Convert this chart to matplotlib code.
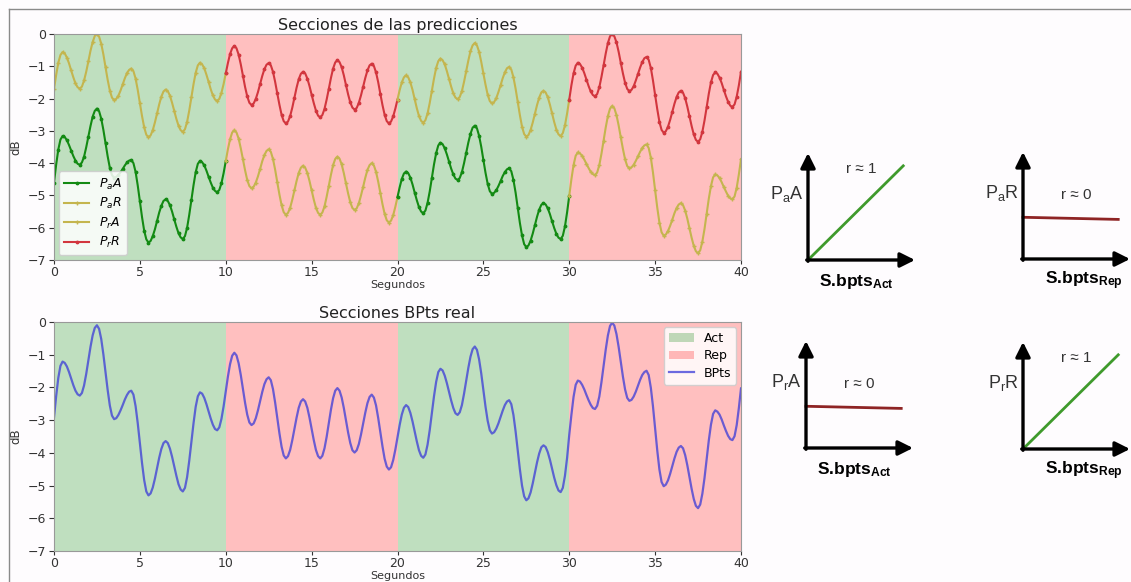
import numpy as np
import matplotlib
matplotlib.use("Agg")
import matplotlib.pyplot as plt
from matplotlib.lines import Line2D

# ---------------------------------------------------------------- data
t = np.linspace(0, 40, 321)  # seconds, 0.125 s step

bpts = np.array([
    -2.92, -2.27, -1.71, -1.34, -1.21, -1.25, -1.36, -1.53,
    -1.73, -1.93, -2.10, -2.21, -2.25, -2.17, -1.94, -1.59,
    -1.18, -0.76, -0.41, -0.18, -0.10, -0.21, -0.52, -0.99,
    -1.54, -2.08, -2.55, -2.86, -2.97, -2.94, -2.84, -2.70,
    -2.54, -2.37, -2.23, -2.13, -2.10, -2.22, -2.57, -3.09,
    -3.70, -4.31, -4.83, -5.18, -5.30, -5.24, -5.06, -4.79,
    -4.47, -4.15, -3.88, -3.70, -3.64, -3.70, -3.87, -4.12,
    -4.41, -4.70, -4.96, -5.12, -5.18, -5.07, -4.74, -4.24,
    -3.67, -3.09, -2.59, -2.27, -2.15, -2.19, -2.32, -2.51,
    -2.73, -2.95, -3.14, -3.27, -3.31, -3.22, -2.96, -2.58,
    -2.13, -1.67, -1.29, -1.03, -0.94, -1.02, -1.26, -1.62,
    -2.05, -2.47, -2.83, -3.07, -3.15, -3.10, -2.94, -2.70,
    -2.42, -2.14, -1.90, -1.75, -1.69, -1.78, -2.05, -2.46,
    -2.93, -3.40, -3.81, -4.08, -4.17, -4.10, -3.91, -3.61,
    -3.27, -2.92, -2.62, -2.43, -2.36, -2.43, -2.62, -2.92,
    -3.27, -3.61, -3.91, -4.10, -4.17, -4.09, -3.86, -3.51,
    -3.10, -2.68, -2.33, -2.10, -2.02, -2.10, -2.31, -2.63,
    -3.01, -3.38, -3.70, -3.92, -3.99, -3.92, -3.73, -3.44,
    -3.11, -2.77, -2.48, -2.29, -2.22, -2.31, -2.55, -2.93,
    -3.37, -3.80, -4.18, -4.42, -4.51, -4.44, -4.22, -3.90,
    -3.53, -3.15, -2.83, -2.62, -2.54, -2.60, -2.78, -3.04,
    -3.35, -3.65, -3.92, -4.09, -4.15, -4.05, -3.75, -3.31,
    -2.79, -2.27, -1.83, -1.53, -1.43, -1.48, -1.64, -1.87,
    -2.14, -2.40, -2.63, -2.79, -2.84, -2.76, -2.54, -2.19,
    -1.80, -1.40, -1.06, -0.83, -0.75, -0.85, -1.14, -1.57,
    -2.08, -2.59, -3.02, -3.31, -3.41, -3.37, -3.26, -3.10,
    -2.90, -2.71, -2.54, -2.43, -2.39, -2.51, -2.84, -3.34,
    -3.92, -4.50, -5.00, -5.33, -5.45, -5.39, -5.21, -4.93,
    -4.61, -4.29, -4.02, -3.83, -3.77, -3.82, -3.98, -4.21,
    -4.49, -4.76, -4.99, -5.15, -5.20, -5.07, -4.70, -4.15,
    -3.45, -2.84, -2.29, -1.92, -1.79, -1.82, -1.92, -2.06,
    -2.23, -2.39, -2.53, -2.63, -2.66, -2.56, -2.28, -1.84,
    -1.34, -0.84, -0.41, -0.12, -0.02, -0.11, -0.37, -0.76,
    -1.22, -1.67, -2.06, -2.32, -2.41, -2.38, -2.28, -2.13,
    -1.95, -1.77, -1.62, -1.53, -1.49, -1.62, -2.01, -2.58,
    -3.26, -3.93, -4.51, -4.89, -5.02, -4.97, -4.84, -4.64,
    -4.41, -4.17, -3.97, -3.84, -3.79, -3.86, -4.07, -4.38,
    -4.74, -5.10, -5.41, -5.62, -5.69, -5.58, -5.25, -4.77,
    -4.20, -3.62, -3.14, -2.81, -2.70, -2.74, -2.83, -2.98,
    -3.16, -3.33, -3.48, -3.58, -3.61, -3.49, -3.15, -2.63,
    -2.03,
])

# prediction of the "Rep" model (P_r) -- upper trace
pred_r = np.array([
    -1.70, -1.27, -0.89, -0.65, -0.56, -0.60, -0.73, -0.91,
    -1.13, -1.34, -1.53, -1.65, -1.69, -1.63, -1.44, -1.17,
    -0.85, -0.52, -0.25, -0.06, 0.00, -0.08, -0.30, -0.63,
    -1.03, -1.42, -1.75, -1.97, -2.05, -2.01, -1.91, -1.75,
    -1.56, -1.37, -1.21, -1.11, -1.07, -1.15, -1.38, -1.73,
    -2.14, -2.54, -2.89, -3.12, -3.20, -3.14, -2.98, -2.74,
    -2.46, -2.18, -1.94, -1.78, -1.72, -1.77, -1.91, -2.13,
    -2.38, -2.63, -2.84, -2.98, -3.03, -2.95, -2.72, -2.37,
    -1.96, -1.55, -1.20, -0.97, -0.89, -0.94, -1.06, -1.26,
    -1.48, -1.71, -1.90, -2.03, -2.07, -2.01, -1.82, -1.55,
    -1.22, -0.90, -0.62, -0.44, -0.37, -0.44, -0.64, -0.94,
    -1.29, -1.64, -1.93, -2.13, -2.20, -2.15, -2.01, -1.80,
    -1.55, -1.30, -1.09, -0.95, -0.90, -0.97, -1.17, -1.48,
    -1.84, -2.19, -2.50, -2.70, -2.77, -2.71, -2.54, -2.28,
    -1.97, -1.66, -1.40, -1.23, -1.17, -1.22, -1.38, -1.61,
    -1.88, -2.14, -2.37, -2.53, -2.58, -2.51, -2.32, -2.03,
    -1.70, -1.36, -1.07, -0.88, -0.81, -0.87, -1.03, -1.28,
    -1.58, -1.87, -2.12, -2.28, -2.34, -2.29, -2.13, -1.90,
    -1.63, -1.36, -1.13, -0.97, -0.92, -0.99, -1.19, -1.49,
    -1.85, -2.20, -2.50, -2.70, -2.77, -2.71, -2.55, -2.31,
    -2.03, -1.74, -1.50, -1.34, -1.28, -1.34, -1.50, -1.73,
    -2.02, -2.30, -2.54, -2.69, -2.75, -2.67, -2.46, -2.14,
    -1.76, -1.38, -1.05, -0.84, -0.76, -0.81, -0.94, -1.15,
    -1.39, -1.63, -1.84, -1.97, -2.02, -1.95, -1.77, -1.48,
    -1.15, -0.82, -0.53, -0.35, -0.28, -0.35, -0.55, -0.86,
    -1.22, -1.57, -1.88, -2.08, -2.15, -2.11, -1.99, -1.80,
    -1.59, -1.37, -1.19, -1.06, -1.02, -1.10, -1.34, -1.69,
    -2.10, -2.51, -2.87, -3.10, -3.18, -3.13, -2.97, -2.74,
    -2.47, -2.20, -1.97, -1.81, -1.76, -1.81, -1.96, -2.19,
    -2.46, -2.73, -2.96, -3.11, -3.16, -3.07, -2.83, -2.46,
    -2.03, -1.59, -1.22, -0.98, -0.89, -0.93, -1.04, -1.21,
    -1.41, -1.61, -1.78, -1.89, -1.93, -1.86, -1.65, -1.33,
    -0.97, -0.60, -0.28, -0.07, 0.00, -0.07, -0.26, -0.55,
    -0.89, -1.22, -1.51, -1.70, -1.77, -1.73, -1.62, -1.44,
    -1.24, -1.04, -0.87, -0.75, -0.71, -0.80, -1.05, -1.44,
    -1.89, -2.33, -2.72, -2.97, -3.06, -3.01, -2.87, -2.66,
    -2.41, -2.16, -1.95, -1.81, -1.76, -1.82, -1.99, -2.25,
    -2.55, -2.85, -3.11, -3.28, -3.34, -3.26, -3.03, -2.68,
    -2.27, -1.85, -1.50, -1.27, -1.19, -1.23, -1.35, -1.52,
    -1.73, -1.93, -2.10, -2.22, -2.26, -2.18, -1.94, -1.59,
    -1.17,
])

# prediction of the "Act" model (P_a) -- lower trace
pred_a = np.array([
    -4.60, -4.05, -3.58, -3.27, -3.16, -3.19, -3.29, -3.44,
    -3.61, -3.78, -3.92, -4.02, -4.05, -3.98, -3.80, -3.51,
    -3.18, -2.85, -2.56, -2.38, -2.31, -2.39, -2.62, -2.97,
    -3.38, -3.79, -4.14, -4.37, -4.45, -4.43, -4.37, -4.28,
    -4.18, -4.07, -3.98, -3.92, -3.90, -4.00, -4.27, -4.69,
    -5.18, -5.67, -6.09, -6.36, -6.46, -6.41, -6.26, -6.05,
    -5.79, -5.53, -5.32, -5.17, -5.12, -5.17, -5.30, -5.50,
    -5.74, -5.97, -6.17, -6.30, -6.35, -6.26, -6.00, -5.60,
    -5.14, -4.68, -4.28, -4.02, -3.93, -3.97, -4.07, -4.23,
    -4.42, -4.60, -4.76, -4.86, -4.90, -4.83, -4.62, -4.31,
    -3.94, -3.57, -3.26, -3.05, -2.98, -3.05, -3.24, -3.54,
    -3.88, -4.22, -4.52, -4.71, -4.78, -4.73, -4.60, -4.41,
    -4.18, -3.94, -3.75, -3.62, -3.57, -3.65, -3.87, -4.20,
    -4.59, -4.97, -5.30, -5.52, -5.60, -5.54, -5.38, -5.13,
    -4.84, -4.55, -4.30, -4.14, -4.08, -4.14, -4.30, -4.55,
    -4.84, -5.13, -5.38, -5.54, -5.60, -5.53, -5.34, -5.04,
    -4.70, -4.36, -4.06, -3.87, -3.80, -3.86, -4.04, -4.31,
    -4.63, -4.94, -5.21, -5.39, -5.45, -5.40, -5.24, -5.00,
    -4.73, -4.45, -4.21, -4.06, -4.00, -4.07, -4.27, -4.57,
    -4.92, -5.27, -5.57, -5.77, -5.84, -5.78, -5.61, -5.35,
    -5.05, -4.75, -4.49, -4.32, -4.26, -4.31, -4.45, -4.66,
    -4.91, -5.15, -5.36, -5.50, -5.55, -5.47, -5.23, -4.88,
    -4.46, -4.04, -3.69, -3.45, -3.37, -3.41, -3.54, -3.73,
    -3.95, -4.17, -4.35, -4.48, -4.52, -4.46, -4.28, -4.00,
    -3.68, -3.36, -3.09, -2.90, -2.84, -2.92, -3.15, -3.49,
    -3.90, -4.30, -4.64, -4.87, -4.95, -4.92, -4.84, -4.71,
    -4.56, -4.40, -4.28, -4.19, -4.16, -4.25, -4.52, -4.91,
    -5.38, -5.85, -6.24, -6.51, -6.60, -6.55, -6.40, -6.18,
    -5.92, -5.66, -5.44, -5.29, -5.24, -5.28, -5.40, -5.58,
    -5.80, -6.01, -6.19, -6.31, -6.35, -6.25, -5.96, -5.52,
    -5.01, -4.50, -4.06, -3.77, -3.67, -3.70, -3.77, -3.89,
    -4.02, -4.15, -4.27, -4.34, -4.37, -4.29, -4.06, -3.71,
    -3.30, -2.89, -2.54, -2.31, -2.23, -2.30, -2.51, -2.83,
    -3.20, -3.56, -3.88, -4.09, -4.16, -4.13, -4.05, -3.93,
    -3.79, -3.65, -3.53, -3.45, -3.42, -3.53, -3.83, -4.29,
    -4.84, -5.38, -5.84, -6.14, -6.25, -6.21, -6.10, -5.94,
    -5.75, -5.55, -5.39, -5.28, -5.24, -5.30, -5.47, -5.72,
    -6.02, -6.31, -6.56, -6.73, -6.79, -6.70, -6.43, -6.04,
    -5.57, -5.10, -4.71, -4.44, -4.35, -4.38, -4.46, -4.59,
    -4.74, -4.88, -5.01, -5.09, -5.12, -5.03, -4.76, -4.35,
    -3.88,
])

section_edges = [0, 10, 20, 30, 40]
section_kinds = ["Act", "Rep", "Act", "Rep"]

x_ticks = [0, 5, 10, 15, 20, 25, 30, 35, 40]
y_ticks = [0, -1, -2, -3, -4, -5, -6, -7]

# correlation sketches: y-label, x-label subscript, r value
sketch_ylabels = [r"P$_{\mathrm{a}}$A", r"P$_{\mathrm{a}}$R",
                  r"P$_{\mathrm{r}}$A", r"P$_{\mathrm{r}}$R"]
sketch_xsubs = ["Act", "Rep", "Act", "Rep"]
sketch_r = [1, 0, 0, 1]
trend_x = [0.0, 0.89]
trend_y_corr = [0.0, 0.88]
trend_y_flat = [0.39, 0.37]

# ---------------------------------------------------------------- style
plt.rcParams["mathtext.rm"] = "Liberation Sans"
plt.rcParams["mathtext.bf"] = "Liberation Sans:bold"
plt.rcParams["mathtext.it"] = "Liberation Sans:italic"

W, H = 1131, 582
fig = plt.figure(figsize=(W / 100, H / 100), dpi=100)
fig.patch.set_facecolor("#fefcfe")

SPAN_COL = {"Act": "green", "Rep": "red"}
SPAN_ALPHA = 0.25


def px_axes(x0, y0, x1, y1):
    return fig.add_axes([x0 / W, 1 - y1 / H, (x1 - x0) / W, (y1 - y0) / H])


def style_axes(ax):
    ax.set_xlim(0, 40)
    ax.set_ylim(-7, 0)
    ax.set_xticks(x_ticks)
    ax.set_yticks(y_ticks)
    ax.set_yticklabels([f"{v}".replace("-", "\u2212") for v in y_ticks])
    ax.tick_params(labelsize=9, colors="#333333", length=3.5, pad=2)
    ax.tick_params(axis="x", length=3, pad=1.5)
    for s in ax.spines.values():
        s.set_color("#999999")
    ax.set_xlabel("Segundos", fontsize=8, labelpad=0.5, color="#333333")
    ax.set_ylabel("dB", fontsize=8.5, labelpad=4, color="#333333")


def shade(ax):
    seen = set()
    for a, b, kind in zip(section_edges[:-1], section_edges[1:], section_kinds):
        lab = kind if kind not in seen else None
        seen.add(kind)
        ax.axvspan(a, b, color=SPAN_COL[kind], alpha=SPAN_ALPHA, lw=0, label=lab)


def section_slice(a, b):
    return (t >= a - 1e-9) & (t <= b + 1e-9)


# ---------------------------------------------------------------- top: predictions
ax1 = px_axes(54, 34, 741, 260)
shade(ax1)

series_style = {
    "pa_act": dict(color="#138a13", marker=".", ms=3.5, lw=1.5, markevery=2,
                   label=r"$P_aA$"),
    "pa_rep": dict(color="#c4b54e", marker="+", ms=3.5, lw=1.5, markevery=2,
                   label=r"$P_aR$"),
    "pr_act": dict(color="#c4b54e", marker="+", ms=3.5, lw=1.5, markevery=2,
                   label=r"$P_rA$"),
    "pr_rep": dict(color="#d2363e", marker=".", ms=3.5, lw=1.5, markevery=2,
                   label=r"$P_rR$"),
}
handles = {}
for a, b, kind in zip(section_edges[:-1], section_edges[1:], section_kinds):
    m = section_slice(a, b)
    low_key, up_key = ("pa_act", "pr_act") if kind == "Act" else ("pa_rep", "pr_rep")
    h_low = ax1.plot(t[m], pred_a[m], **{**series_style[low_key], "label": None})[0]
    h_up = ax1.plot(t[m], pred_r[m], **{**series_style[up_key], "label": None})[0]
    handles.setdefault(low_key, h_low)
    handles.setdefault(up_key, h_up)

order = ["pa_act", "pa_rep", "pr_act", "pr_rep"]
ax1.legend([handles[k] for k in order], [series_style[k]["label"] for k in order],
           loc="lower left", fontsize=9, framealpha=0.85, borderaxespad=0.4,
           handlelength=2.0, labelspacing=0.35)
style_axes(ax1)
ax1.set_title("Secciones de las predicciones", fontsize=11.5, pad=3, color="#222222")

# ---------------------------------------------------------------- bottom: real BPts
ax2 = px_axes(54, 322, 741, 551)
shade(ax2)
ax2.plot(t, bpts, color="#3a3ad8", lw=1.6, alpha=0.75, label="BPts")
ax2.legend(loc="upper right", fontsize=9, framealpha=0.85, handlelength=2.0,
           labelspacing=0.35, borderaxespad=0.4)
style_axes(ax2)
ax2.set_title("Secciones BPts real", fontsize=11.5, pad=3, color="#222222")

# ---------------------------------------------------------------- correlation sketches
sketch_origins = [(808, 260), (1023, 259), (806, 448), (1023, 449)]
SK = 107
xlab_pos = {"Act": 0.45, "Rep": 0.57}
for (ox, oy), ylab, xsub, r in zip(sketch_origins, sketch_ylabels, sketch_xsubs, sketch_r):
    ax = fig.add_axes([ox / W, 1 - oy / H, SK / W, SK / H])
    ax.set_xlim(0, 1)
    ax.set_ylim(0, 1)
    ax.axis("off")
    arrow = dict(arrowstyle="-|>", lw=2.4, color="black", mutation_scale=22,
                 shrinkA=0, shrinkB=0)
    ax.annotate("", xy=(1.0, 0.0), xytext=(-0.012, 0.0), arrowprops=arrow,
                annotation_clip=False)
    ax.annotate("", xy=(0.0, 1.0), xytext=(0.0, -0.012), arrowprops=arrow,
                annotation_clip=False)
    if r == 1:
        ax.plot(trend_x, trend_y_corr, color="#3f9a2c", lw=2.0, clip_on=False)
        ax.text(0.50, 0.85, "r \u2248 1", ha="center", va="center", fontsize=11,
                family="Liberation Sans", color="#333333")
    else:
        ax.plot(trend_x, trend_y_flat, color="#8e2424", lw=2.0, clip_on=False)
        ax.text(0.50, 0.60, "r \u2248 0", ha="center", va="center", fontsize=11,
                family="Liberation Sans", color="#333333")
    ax.text(-0.04, 0.62, ylab, ha="right", va="center", fontsize=13,
            family="Liberation Sans", math_fontfamily="custom", color="#333333")
    ax.text(xlab_pos[xsub], -0.20, r"S.bpts$_{\mathbf{%s}}$" % xsub, ha="center",
            va="center", fontsize=12.5, fontweight="bold", family="Liberation Sans",
            math_fontfamily="custom", color="black")

# ---------------------------------------------------------------- frame lines
fig.add_artist(Line2D([9 / W, 1.0], [1 - 9 / H, 1 - 9 / H], color="#8a8a8a", lw=1.0,
                      transform=fig.transFigure))
fig.add_artist(Line2D([9 / W, 9 / W], [0.0, 1 - 9 / H], color="#8a8a8a", lw=1.0,
                      transform=fig.transFigure))

fig.savefig("out.png", dpi=100, facecolor=fig.get_facecolor())
